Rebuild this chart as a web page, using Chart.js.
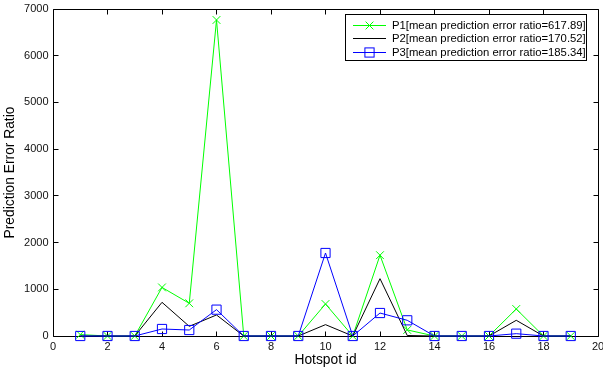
<!DOCTYPE html>
<html><head><meta charset="utf-8">
<script src="https://cdn.jsdelivr.net/npm/chart.js@4/dist/chart.umd.min.js"></script>
<style>html,body{margin:0;padding:0;background:#fff;overflow:hidden}</style>
</head><body>
<canvas id="c" width="603" height="373" style="display:block;width:603px;height:373px"></canvas>
<script>
// ---- data ----
const hotspotIds = [1,2,3,4,5,6,7,8,9,10,11,12,13,14,15,16,17,18,19];
const p1Values = [30,0,0,1040,700,6765,0,0,0,685,0,1730,130,0,0,0,578,0,0];
const p2Values = [0,0,0,721,207,450,0,0,0,243,0,1227,10,0,0,0,336,0,0];
const p3Values = [0,0,0,150,128,564,0,0,0,1777,0,492,336,0,0,0,50,0,0];
const seriesLabels = [
  'P1[mean prediction error ratio=617.89]',
  'P2[mean prediction error ratio=170.52]',
  'P3[mean prediction error ratio=185.34]'
];
const seriesColors = ['#00ff00', '#000000', '#0000ff'];
const xTickValues = [0,2,4,6,8,10,12,14,16,18,20];
const yTickValues = [0,1000,2000,3000,4000,5000,6000,7000];
const xTitle = 'Hotspot id';
const yTitle = 'Prediction Error Ratio';

const FONT = 'Liberation Sans, Arial, Helvetica, sans-serif';

function toPoints(vals){ return hotspotIds.map((id,i)=>({x:id, y:vals[i]})); }

const framePlugin = {
  id: 'frame',
  beforeDatasetsDraw(chart){
    const {ctx, chartArea:{left,right,top,bottom}, scales:{x,y}} = chart;
    const L = Math.floor(left)+0.5, R = Math.floor(right)+0.5, T = Math.floor(top)+0.5, B = Math.floor(bottom)+0.5;
    ctx.save();
    ctx.strokeStyle = '#000';
    ctx.lineWidth = 1;
    ctx.beginPath();
    ctx.rect(L, T, R-L, B-T);
    const tl = 5;
    xTickValues.forEach(v=>{
      const px = Math.floor(x.getPixelForValue(v))+0.5;
      ctx.moveTo(px, B); ctx.lineTo(px, B-tl);
      ctx.moveTo(px, T); ctx.lineTo(px, T+tl);
    });
    yTickValues.forEach(v=>{
      const py = Math.floor(y.getPixelForValue(v))+0.5;
      ctx.moveTo(L, py); ctx.lineTo(L+tl, py);
      ctx.moveTo(R, py); ctx.lineTo(R-tl, py);
    });
    ctx.stroke();
    ctx.restore();
  }
};

const legendPlugin = {
  id: 'boxLegend',
  afterDraw(chart){
    const ctx = chart.ctx;
    const bx = 345.5, by = 14.5, bw = 241, bh = 46;
    ctx.save();
    ctx.fillStyle = '#fff';
    ctx.fillRect(bx, by, bw, bh);
    ctx.strokeStyle = '#000';
    ctx.lineWidth = 1;
    ctx.strokeRect(bx, by, bw, bh);
    const rows = [25, 38.5, 52];
    ctx.font = '11.3px ' + FONT;
    ctx.textBaseline = 'middle';
    ctx.textAlign = 'left';
    chart.data.datasets.forEach((ds, i)=>{
      const yy = Math.floor(rows[i])+0.5;
      ctx.strokeStyle = ds.borderColor;
      ctx.lineWidth = 1;
      ctx.beginPath();
      ctx.moveTo(353, yy); ctx.lineTo(386, yy);
      ctx.stroke();
      const cx = 369.5;
      if (ds.pointStyle === 'crossRot') {
        const o = ds.pointRadius * Math.SQRT1_2;
        ctx.beginPath();
        ctx.moveTo(cx-o, yy-o); ctx.lineTo(cx+o, yy+o);
        ctx.moveTo(cx-o, yy+o); ctx.lineTo(cx+o, yy-o);
        ctx.stroke();
      } else if (ds.pointStyle === 'rect') {
        const s = ds.pointRadius * Math.SQRT1_2;
        ctx.strokeRect(cx-s, yy-s, 2*s, 2*s);
      }
      ctx.fillStyle = '#000';
      ctx.fillText(ds.label, 392, rows[i]+0.5);
    });
    ctx.restore();
  }
};

new Chart(document.getElementById('c'), {
  type: 'line',
  data: {
    datasets: [
      { label: seriesLabels[0], data: toPoints(p1Values), borderColor: seriesColors[0], backgroundColor: 'transparent',
        borderWidth: 1, pointStyle: 'crossRot', pointRadius: 5.5, pointBorderWidth: 1, pointBorderColor: seriesColors[0],
        pointBackgroundColor: 'transparent', tension: 0, clip: false, order: 3 },
      { label: seriesLabels[1], data: toPoints(p2Values), borderColor: seriesColors[1], backgroundColor: 'transparent',
        borderWidth: 1, pointStyle: false, pointRadius: 0, tension: 0, clip: false, order: 2 },
      { label: seriesLabels[2], data: toPoints(p3Values), borderColor: seriesColors[2], backgroundColor: 'transparent',
        borderWidth: 1, pointStyle: 'rect', pointRadius: 6.5, pointBorderWidth: 1, pointBorderColor: seriesColors[2],
        pointBackgroundColor: 'transparent', tension: 0, clip: false, order: 1 }
    ]
  },
  options: {
    responsive: false,
    animation: false,
    devicePixelRatio: 1,
    layout: { autoPadding: false, padding: { top: 9, right: 5, left: 0, bottom: 0 } },
    plugins: { legend: { display: false }, tooltip: { enabled: false } },
    scales: {
      x: {
        type: 'linear', min: 0, max: 20,
        afterBuildTicks: s => { s.ticks = xTickValues.map(v=>({value:v})); },
        afterFit: s => { s.height = 37; s.paddingLeft = 0; s.paddingRight = 0; },
        grid: { display: false, drawTicks: false },
        border: { display: false },
        ticks: { autoSkip: false, maxRotation: 0, padding: 4, color: '#111', callback: v => String(v),
                 font: { family: FONT, size: 11 } },
        title: { display: true, text: xTitle, color: '#000', font: { family: FONT, size: 13.8 }, padding: { top: 0, bottom: 5 } }
      },
      y: {
        type: 'linear', min: 0, max: 7000,
        afterBuildTicks: s => { s.ticks = yTickValues.map(v=>({value:v})); },
        afterFit: s => { s.width = 53; s.paddingTop = 0; s.paddingBottom = 0; },
        grid: { display: false, drawTicks: false },
        border: { display: false },
        ticks: { autoSkip: false, padding: 4.5, color: '#111', callback: v => String(v),
                 font: { family: FONT, size: 11 } },
        title: { display: true, text: yTitle, color: '#000', font: { family: FONT, size: 13.8 }, padding: { top: 2, bottom: 0 } }
      }
    }
  },
  plugins: [framePlugin, legendPlugin]
});
</script>
</body></html>
